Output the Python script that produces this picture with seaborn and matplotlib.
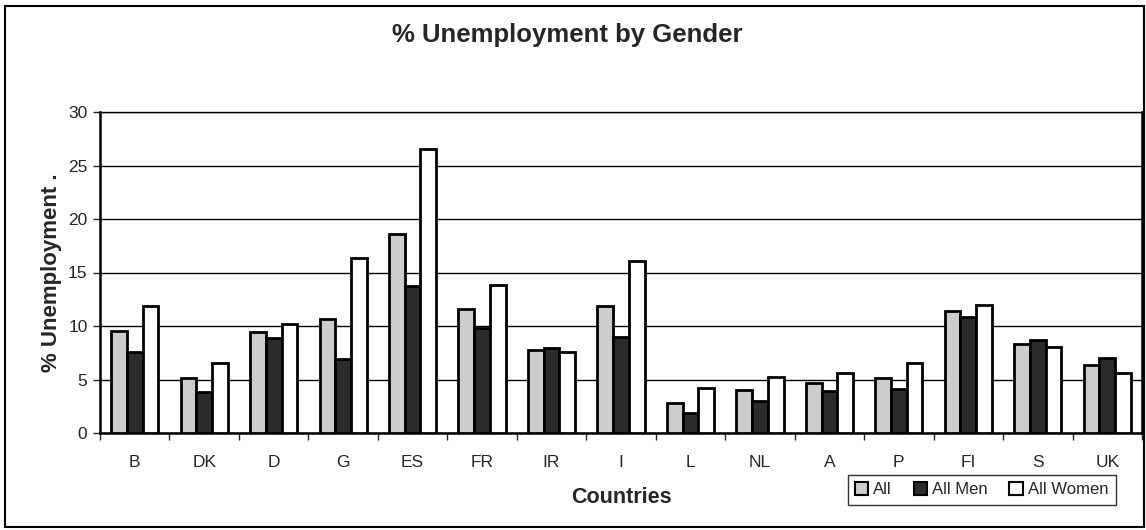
import pandas as pd
import seaborn as sns
import matplotlib.pyplot as plt
from matplotlib.patches import Rectangle, Patch

# Data
countries = ['B', 'DK', 'D', 'G', 'ES', 'FR', 'IR', 'I', 'L', 'NL', 'A', 'P', 'FI', 'S', 'UK']
all_people = [9.5, 5.1, 9.4, 10.7, 18.6, 11.6, 7.8, 11.9, 2.8, 4.0, 4.7, 5.1, 11.4, 8.3, 6.4]
all_men = [7.6, 3.8, 8.9, 6.9, 13.7, 9.8, 7.9, 9.0, 1.9, 3.0, 3.9, 4.1, 10.8, 8.7, 7.0]
all_women = [11.9, 6.5, 10.2, 16.4, 26.5, 13.8, 7.6, 16.1, 4.2, 5.2, 5.6, 6.5, 12.0, 8.0, 5.6]
series = ['All', 'All Men', 'All Women']

df = pd.DataFrame({'country': countries * 3,
                   'series': [s for s in series for _ in countries],
                   'value': all_people + all_men + all_women})

sns.set_style('white')
plt.rcParams['font.family'] = ['Liberation Sans', 'DejaVu Sans']

colors = {'All': '#cdcdcd', 'All Men': '#2b2b2b', 'All Women': '#ffffff'}

fig = plt.figure(figsize=(11.46, 5.30), dpi=100)
ax = fig.add_axes([100 / 1146, 1 - 433 / 530, 1042 / 1146, 321 / 530])

sns.barplot(data=df, x='country', y='value', hue='series', palette=colors,
            width=0.68, edgecolor='black', linewidth=2, ax=ax, legend=False,
            zorder=3)

ax.set_ylim(0, 30)
ax.set_xlim(-0.5, len(countries) - 0.5)
ax.set_yticks(range(0, 31, 5))
ax.yaxis.grid(True, color='black', linewidth=1, zorder=0)
ax.set_axisbelow(True)

# Excel style ticks between categories
ax.set_xticks([i - 0.5 for i in range(len(countries) + 1)], minor=True)
ax.set_xticks(range(len(countries)))
ax.set_xticklabels(countries, fontsize=12.5)
ax.tick_params(axis='x', which='major', length=0, pad=16)
ax.tick_params(axis='x', which='minor', length=5, width=1, direction='out')
ax.tick_params(axis='y', length=5, width=1, direction='out', labelsize=12.5, pad=4)
ax.tick_params(bottom=True, left=True, which='both')

for side in ['top', 'right', 'left', 'bottom']:
    ax.spines[side].set_visible(True)
    ax.spines[side].set_color('black')
ax.spines['left'].set_linewidth(1.8)
ax.spines['bottom'].set_linewidth(1.8)
ax.spines['top'].set_linewidth(1)
ax.spines['right'].set_linewidth(1.8)

ax.set_xlabel('Countries', fontsize=15.5, fontweight='bold', labelpad=12)
ax.set_ylabel('% Unemployment .', fontsize=16, fontweight='bold', labelpad=4)

fig.text(567 / 1146, 1 - 35 / 530, '% Unemployment by Gender', ha='center', va='center',
         fontsize=18.5, fontweight='bold')

handles = [Patch(facecolor=colors[s], edgecolor='black', linewidth=1.5, label=s) for s in series]
fig.legend(handles=handles, loc='lower right', bbox_to_anchor=(1124 / 1146, 1 - 513 / 530),
           ncol=3, frameon=True, fancybox=False, edgecolor='black', fontsize=12,
           handlelength=0.8, handleheight=0.8, handletextpad=0.3, columnspacing=1.3,
           borderpad=0.45)

# outer chart border
fig.patches.append(Rectangle((5 / 1146, 3 / 530), 1139 / 1146, 521 / 530, transform=fig.transFigure,
                             fill=False, edgecolor='black', linewidth=1.5))

fig.savefig('out.png', dpi=100, facecolor='white')
